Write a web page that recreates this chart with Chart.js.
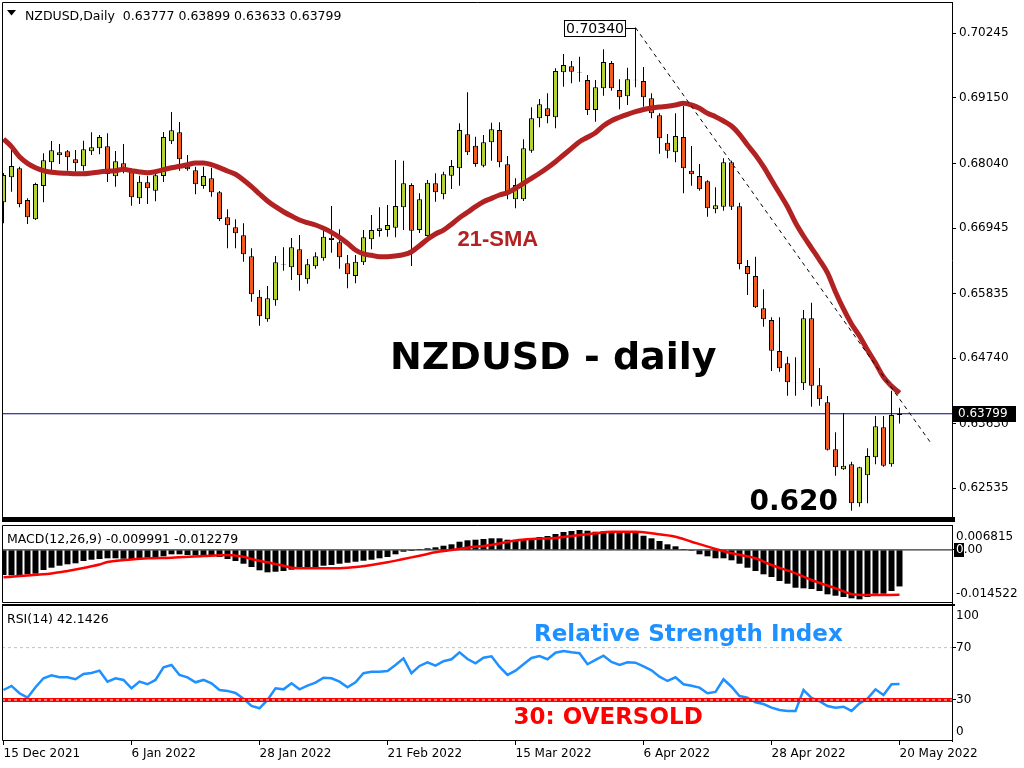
<!DOCTYPE html>
<html>
<head>
<meta charset="utf-8">
<title>NZDUSD daily</title>
<script src="https://cdn.jsdelivr.net/npm/chart.js@4.4.1/dist/chart.umd.min.js"></script>
<style>
  html, body { margin: 0; padding: 0; background: #fff; }
  #wrap { position: relative; width: 1024px; height: 768px; overflow: hidden; }
  canvas { position: absolute; left: 0; }
</style>
</head>
<body>
<div id="wrap">
  <canvas id="price" width="1024" height="524" style="top:0px"></canvas>
  <canvas id="macd" width="1024" height="80" style="top:524px"></canvas>
  <canvas id="rsi" width="1024" height="164" style="top:604px"></canvas>
</div>
<script>
// Daily candles, index 0 = 15 Dec 2021 ... 112 = 20 May 2022
const open = [
  .67381,.67805,.67958,.67420,.67093,.67658,.68059,.68229,.68246,.68110,
  .67991,.68246,.68296,.68330,.67822,.68042,.67934,.67449,.67720,.67578,
  .67827,.68415,.68567,.67985,.67924,.67658,.67788,.67551,.67127,.66958,
  .66822,.66467,.65782,.65399,.65721,.66320,.66280,.66585,.66077,.66297,
  .66433,.66782,.66704,.66348,.66133,.66365,.66755,.66895,.66912,.66951,
  .67297,.67675,.66912,.66810,.67703,.67517,.67832,.67958,.68534,.68340,
  .68002,.68398,.68606,.68025,.67432,.67432,.68256,.68805,.68974,.68822,
  .69584,.69686,.69580,.69454,.68945,.69313,.69742,.69284,.69177,.69450,
  .69437,.69144,.68856,.68391,.68229,.68488,.67917,.67827,.67737,.67263,
  .67307,.68059,.67314,.66302,.66133,.65586,.65387,.64862,.64654,.64325,
  .64315,.65416,.64281,.63993,.63197,.62858,.62942,.62282,.62756,.63061,
  .63569,.62942,.63777];
const high = [
  .67878,.68285,.67985,.67449,.67714,.68212,.68420,.68369,.68268,.68268,
  .68425,.68567,.68522,.68551,.68251,.68369,.67958,.67832,.67832,.67929,
  .68573,.68911,.68742,.68183,.67985,.67985,.67968,.67573,.67263,.67093,
  .67026,.66602,.65896,.65963,.66472,.66619,.66777,.66827,.66421,.66534,
  .66912,.67319,.66924,.66489,.66489,.66912,.67166,.67297,.67336,.68098,
  .68086,.67703,.67534,.67759,.67873,.67900,.68098,.68720,.69245,.68493,
  .68522,.68730,.68737,.68166,.67788,.68449,.68991,.69132,.69228,.69652,
  .69894,.69776,.69848,.69538,.69454,.69974,.69776,.69465,.69662,.70340,
  .69674,.69228,.68889,.68539,.68889,.69013,.68335,.68030,.67754,.67636,
  .68127,.68086,.67375,.66404,.66460,.65907,.65433,.65433,.64765,.64755,
  .65557,.65680,.64574,.64100,.63485,.63806,.62986,.62902,.63213,.63761,
  .63761,.64189,.63899];
const low = [
  .67026,.67561,.67297,.67014,.67082,.67381,.67929,.68030,.67917,.67900,
  .67917,.68183,.68195,.67725,.67646,.67873,.67324,.67353,.67353,.67398,
  .67725,.68369,.67917,.67917,.67517,.67612,.67476,.67065,.66602,.66602,
  .66375,.65697,.65291,.65358,.65630,.66223,.66065,.65884,.66002,.66256,
  .66392,.66528,.66256,.65924,.66009,.66319,.66585,.66799,.66799,.66788,
  .66912,.66302,.66861,.66799,.67392,.67432,.67607,.67663,.68183,.67985,
  .67974,.68086,.67974,.67432,.67280,.67404,.68222,.68652,.68720,.68635,
  .69340,.69398,.69425,.68861,.68747,.69188,.69272,.68957,.69030,.69330,
  .69001,.68805,.68205,.68127,.68059,.67534,.67663,.67578,.67138,.67195,
  .67239,.67251,.66246,.65811,.65590,.65274,.64523,.64511,.64105,.64105,
  .64201,.63918,.63935,.63176,.62749,.62846,.62156,.62224,.62282,.62942,
  .62902,.62902,.63633];
const close = [
  .67844,.67997,.67353,.67127,.67692,.68093,.68262,.68178,.68144,.68042,
  .68279,.68313,.68488,.67861,.68076,.67968,.67466,.67731,.67619,.67839,
  .68488,.68601,.68110,.67941,.67686,.67827,.67551,.67099,.66992,.66856,
  .66500,.65823,.65450,.65755,.66365,.66328,.66619,.66145,.66331,.66467,
  .66799,.66743,.66450,.66162,.66375,.66788,.66912,.66941,.66997,.67319,
  .67703,.66900,.67432,.67714,.67551,.67856,.67997,.68606,.68229,.68030,
  .68398,.68618,.68059,.67517,.67675,.68296,.68805,.69042,.68844,.69606,
  .69708,.69594,.69588,.68945,.69330,.69759,.69313,.69160,.69465,.69458,
  .69160,.68889,.68466,.68254,.68505,.67958,.67856,.67602,.67280,.67331,
  .68059,.67307,.66336,.66167,.65602,.65399,.64867,.64569,.64332,.64330,
  .65416,.64274,.64044,.63190,.62892,.62919,.62282,.62892,.63083,.63586,
  .62919,.63778,.63799];

// 21-period SMA as drawn on the chart
const sma21 = [
  .68454,.68324,.68154,.68042,.67968,.67917,.67890,.67878,.67873,.67866,
  .67866,.67878,.67895,.67907,.67917,.67941,.67917,.67895,.67883,.67900,
  .67934,.67968,.67991,.68019,.68047,.68047,.68019,.67968,.67912,.67856,
  .67759,.67646,.67522,.67404,.67307,.67222,.67149,.67082,.67036,.66997,
  .66941,.66873,.66788,.66687,.66573,.66506,.66483,.66460,.66460,.66472,
  .66494,.66544,.66646,.66755,.66844,.66912,.67009,.67121,.67212,.67307,
  .67392,.67449,.67505,.67544,.67619,.67703,.67788,.67873,.67968,.68069,
  .68183,.68296,.68408,.68483,.68561,.68679,.68764,.68822,.68872,.68917,
  .68954,.68979,.68996,.69008,.69030,.69059,.69030,.68974,.68889,.68832,
  .68759,.68674,.68534,.68352,.68183,.67985,.67759,.67534,.67307,.67036,
  .66811,.66607,.66404,.66184,.65862,.65574,.65320,.65116,.64879,.64659,
  .64422,.64269,.64150];

// MACD(12,26,9) histogram and signal line
const macdMain = [
  -.006866,-.006948,-.006866,-.006675,-.006511,-.005499,-.004869,-.004322,-.003939,-.003666,
  -.003037,-.002681,-.002489,-.002298,-.002298,-.002407,-.002489,-.002298,-.002134,-.002024,
  -.001751,-.001204,-.001204,-.001395,-.001477,-.001587,-.001751,-.001942,-.002489,-.003037,
  -.003775,-.004678,-.005581,-.006128,-.005964,-.005772,-.005416,-.005225,-.005034,-.004678,
  -.004322,-.004131,-.003775,-.003502,-.003228,-.002954,-.002681,-.002298,-.001942,-.001204,
  -.000492,-.000301,.000246,.000438,.000711,.001149,.001532,.002243,.002626,.002790,
  .002982,.003173,.003173,.002790,.002435,.002708,.003173,.003529,.003802,.004350,
  .004897,.005170,.005444,.005252,.004979,.005088,.005170,.004979,.004979,.004815,
  .003885,.003173,.002435,.001532,.000985,.000246,-.000246,-.001204,-.001751,-.002298,
  -.002298,-.002845,-.003775,-.004869,-.005772,-.006675,-.007413,-.008508,-.009246,-.010341,
  -.010505,-.010696,-.011243,-.012146,-.012529,-.012885,-.013240,-.013514,-.012885,-.011982,
  -.011982,-.011243,-.009991];
const signalIdx = [0,2,6,8,10,12,13,16,18,21,25,28,30,31,33,35,36,38,41,43,46,48,50,52,54,
  56,58,61,64,66,69,71,74,76,79,81,84,86,89,91,94,96,99,101,104,106,108,112];
const signalVal = [-.007496,-.007140,-.006456,-.005772,-.004951,-.003994,-.003310,-.002626,
  -.002298,-.002134,-.001669,-.001395,-.001860,-.002489,-.003392,-.004322,-.004869,-.005034,
  -.005034,-.004869,-.004131,-.003392,-.002489,-.001587,-.000657,-.000027,.000602,.001340,
  .002571,.002982,.003255,.003802,.004541,.004979,.004979,.004541,.003611,.002243,.000246,
  -.000930,-.002298,-.004131,-.006401,-.008234,-.010505,-.012064,-.012338,-.012279];

// RSI(14)
const rsi14 = [
  37.6,40.7,35.1,31.7,39.7,46.6,48.9,47.3,47.3,45.8,
  49.8,50.6,52.4,44.0,46.6,45.3,38.9,44.0,42.0,45.3,
  55.0,56.7,49.1,47.3,43.5,45.3,42.7,37.6,36.9,35.3,
  31.0,25.4,23.6,30.0,38.9,38.1,42.7,38.1,40.9,43.2,
  47.0,46.6,44.0,39.7,43.5,50.4,51.6,51.6,52.1,56.7,
  61.8,50.4,56.0,58.8,56.2,59.6,61.1,66.4,61.3,58.0,
  62.3,63.4,55.4,49.1,52.4,57.3,62.1,63.6,61.1,66.1,
  67.4,66.4,65.7,57.3,60.6,63.8,59.0,56.7,58.8,58.5,
  55.7,52.7,47.8,44.5,47.3,42.0,40.9,39.4,35.1,36.1,
  45.8,40.1,33.0,31.7,28.2,26.9,24.1,22.3,21.6,21.6,
  37.6,31.5,29.0,25.4,24.1,24.8,21.6,27.4,31.0,38.1,
  33.8,42.0,42.1426];

// axes and annotations
const priceTicks = [0.70245, 0.69150, 0.68040, 0.66945, 0.65835, 0.64740, 0.63630, 0.62535];
const dateTicks = [0, 16, 32, 48, 64, 80, 96, 112];
const dateLabels = ['15 Dec 2021', '6 Jan 2022', '28 Jan 2022', '21 Feb 2022',
  '15 Mar 2022', '6 Apr 2022', '28 Apr 2022', '20 May 2022'];
const macdTicks = [0];
const macdEdge = ['0.006815', '-0.014522'];
const rsiTicks = [30, 70];
const rsiEdge = ['100', '0'];
const rsiOverbought = 70;
const rsiOversold = 30;
const trendIdx = [79, 116.1];
const trendPrice = [0.70340, 0.63269];
const highIdx = 79;
const highMark = 0.70340;
const bidPrice = 0.63799;

const X_MIN = -0.1875, X_MAX = 118.5625;
const PRICE_MIN = 0.62033, PRICE_MAX = 0.70775;
const MACD_MIN = -0.014522, MACD_MAX = 0.006815;
const RSI_MIN = -1.4, RSI_MAX = 102.6;

const BULL = '#B2D334';
const BEAR = '#F25A1F';
const FONT = '"DejaVu Sans", sans-serif';

Chart.defaults.font.family = FONT;
Chart.defaults.font.size = 12;
Chart.defaults.color = '#000';

const n = open.length - 1;
const idx = open.map((_, i) => i);

function xAxis(show) {
  const ax = { type: 'linear', min: X_MIN, max: X_MAX, offset: false, display: show };
  if (show) {
    Object.assign(ax, {
      afterFit: s => { s.height = 27; s.paddingLeft = 0; s.paddingRight = 0; },
      afterBuildTicks: s => { s.ticks = dateTicks.map(v => ({ value: v })); },
      grid: { drawOnChartArea: false, drawTicks: true, tickLength: 4, color: '#000' },
      border: { display: false },
      ticks: { align: 'start', autoSkip: false, maxRotation: 0, padding: 2, color: '#000',
               callback: (v, i) => dateLabels[i] }
    });
  }
  return ax;
}

function yAxis(min, max, values, fmt, pad) {
  return {
    position: 'right', min, max,
    afterFit: s => { s.width = 72; s.paddingTop = 0; s.paddingBottom = 0; },
    afterBuildTicks: s => { s.ticks = values.map(v => ({ value: v })); },
    grid: { drawOnChartArea: false, drawTicks: true, tickLength: 4, color: '#000' },
    border: { display: true, color: '#000' },
    ticks: { autoSkip: false, padding: pad, color: '#000', callback: fmt }
  };
}

function frame(ctx, a) {
  ctx.strokeStyle = '#000';
  ctx.lineWidth = 1;
  ctx.beginPath();
  ctx.moveTo(a.right, a.top + 0.5);
  ctx.lineTo(a.left + 0.5, a.top + 0.5);
  ctx.lineTo(a.left + 0.5, a.bottom - 0.5);
  ctx.lineTo(a.right, a.bottom - 0.5);
  ctx.stroke();
}

const baseOptions = {
  responsive: false,
  animation: false,
  devicePixelRatio: 1,
  events: [],
  plugins: { legend: { display: false }, tooltip: { enabled: false } }
};

// ---------- price panel ----------
const priceDecor = {
  id: 'priceDecor',
  afterDraw(chart) {
    const { ctx, chartArea: a, scales: { x, y } } = chart;
    ctx.save();
    frame(ctx, a);
    ctx.fillStyle = '#000';
    ctx.fillRect(a.left, a.bottom - 1, a.right - a.left + 3, 5);

    // header
    ctx.beginPath();
    ctx.moveTo(7, 10); ctx.lineTo(16, 10); ctx.lineTo(11.5, 15.5); ctx.closePath();
    ctx.fill();
    ctx.font = '12.5px ' + FONT;
    ctx.textBaseline = 'alphabetic';
    ctx.fillText('NZDUSD,Daily  ' + [open[n], high[n], low[n], close[n]].map(v => v.toFixed(5)).join(' '), 25, 19.5);

    // high marker box
    const hx = x.getPixelForValue(highIdx);
    const hy = Math.round(y.getPixelForValue(highMark)) + 0.5;
    ctx.beginPath(); ctx.moveTo(hx - 9.5, hy); ctx.lineTo(hx, hy); ctx.stroke();
    ctx.fillStyle = '#fff';
    ctx.fillRect(hx - 71.5, hy - 8.5, 62, 17);
    ctx.strokeRect(hx - 71, hy - 8, 61, 16);
    ctx.fillStyle = '#000';
    ctx.font = '14px ' + FONT;
    ctx.textAlign = 'center';
    ctx.textBaseline = 'middle';
    ctx.fillText(highMark.toFixed(5), hx - 40.5, hy + 1);

    // current bid box on the axis
    const by = y.getPixelForValue(bidPrice);
    ctx.fillStyle = '#000';
    ctx.fillRect(a.right + 1, Math.round(by) - 8, 63, 16);
    ctx.fillStyle = '#fff';
    ctx.font = '12px ' + FONT;
    ctx.textAlign = 'left';
    ctx.fillText(bidPrice.toFixed(5), a.right + 6, by + 0.5);

    // annotations
    ctx.textBaseline = 'alphabetic';
    ctx.fillStyle = '#000';
    ctx.font = 'bold 38px ' + FONT;
    ctx.fillText('NZDUSD - daily', 390, 369);
    ctx.font = 'bold 28px ' + FONT;
    ctx.fillText('0.620', 749.5, 510);
    ctx.fillStyle = '#B22222';
    ctx.font = 'bold 22px "Liberation Sans", Arial, sans-serif';
    ctx.fillText('21-SMA', 457.5, 246);
    ctx.restore();
  }
};

new Chart(document.getElementById('price'), {
  type: 'bar',
  data: {
    datasets: [
      { type: 'line', label: 'bid', data: [{ x: X_MIN, y: bidPrice }, { x: X_MAX, y: bidPrice }],
        borderColor: '#000080', borderWidth: 1, pointRadius: 0, order: 5 },
      { label: 'wick', data: idx.map(i => ({ x: i, y: [low[i], high[i]] })),
        backgroundColor: '#000', barThickness: 1, grouped: false, inflateAmount: 0, order: 4 },
      { label: 'body', data: idx.map(i => ({ x: i, y: [open[i], close[i]] })),
        backgroundColor: idx.map(i => close[i] >= open[i] ? BULL : BEAR),
        borderColor: '#000', borderWidth: 1, borderSkipped: false,
        barThickness: 5, grouped: false, inflateAmount: 0, order: 3 },
      { type: 'line', label: '21-SMA', data: idx.map(i => ({ x: i, y: sma21[i] })),
        borderColor: '#B22222', borderWidth: 5, pointRadius: 0, cubicInterpolationMode: 'monotone', order: 2 },
      { type: 'line', label: 'trend', data: trendIdx.map((v, k) => ({ x: v, y: trendPrice[k] })),
        borderColor: '#000', borderWidth: 1, borderDash: [4, 4], pointRadius: 0, order: 1 }
    ]
  },
  options: {
    ...baseOptions,
    layout: { padding: { left: 2, top: 2, right: 0, bottom: 6 } },
    scales: {
      x: xAxis(false),
      y: yAxis(PRICE_MIN, PRICE_MAX, priceTicks, v => v.toFixed(5), 3)
    }
  },
  plugins: [priceDecor]
});

// ---------- MACD panel ----------
const macdDecor = {
  id: 'macdDecor',
  afterDraw(chart) {
    const { ctx, chartArea: a, scales: { y } } = chart;
    ctx.save();
    frame(ctx, a);
    ctx.fillStyle = '#000';
    ctx.font = '12.5px ' + FONT;
    ctx.textBaseline = 'alphabetic';
    ctx.fillText('MACD(12,26,9) ' + macdMain[n].toFixed(6) + ' ' + signalVal[signalVal.length - 1].toFixed(6), 7, 19.3);
    ctx.font = '12px ' + FONT;
    ctx.textBaseline = 'middle';
    ctx.fillText(macdEdge[0], a.right + 4, a.top + 11.7);
    ctx.fillText(macdEdge[1], a.right + 4, a.bottom - 9);
    const zy = y.getPixelForValue(0);
    ctx.fillRect(a.right + 2, Math.round(zy) - 7, 10, 14);
    ctx.fillStyle = '#fff';
    ctx.fillText('0', a.right + 4, zy);
    ctx.restore();
  }
};

new Chart(document.getElementById('macd'), {
  type: 'bar',
  data: {
    datasets: [
      { type: 'line', label: 'zero', data: macdTicks.flatMap(v => [{ x: X_MIN, y: v }, { x: X_MAX, y: v }]),
        borderColor: '#000', borderWidth: 1, pointRadius: 0, order: 3 },
      { label: 'MACD', data: idx.map(i => ({ x: i, y: macdMain[i] })),
        backgroundColor: '#000', barThickness: 6, grouped: false, inflateAmount: 0, order: 2 },
      { type: 'line', label: 'Signal', data: signalIdx.map((v, k) => ({ x: v, y: signalVal[k] })),
        borderColor: '#FF0000', borderWidth: 2.5, pointRadius: 0, cubicInterpolationMode: 'monotone', order: 1 }
    ]
  },
  options: {
    ...baseOptions,
    layout: { padding: { left: 2, top: 1, right: 0, bottom: 1 } },
    scales: {
      x: xAxis(false),
      y: yAxis(MACD_MIN, MACD_MAX, macdTicks, v => v.toFixed(2), 0)
    }
  },
  plugins: [macdDecor]
});

// ---------- RSI panel ----------
const rsiDecor = {
  id: 'rsiDecor',
  afterDraw(chart) {
    const { ctx, chartArea: a } = chart;
    ctx.save();
    frame(ctx, a);
    ctx.fillStyle = '#000';
    ctx.fillRect(a.left, 0, a.right - a.left + 3, 2);
    ctx.font = '12.5px ' + FONT;
    ctx.textBaseline = 'alphabetic';
    ctx.fillText('RSI(14) ' + rsi14[n], 7, 19.3);
    ctx.font = '12px ' + FONT;
    ctx.textBaseline = 'middle';
    ctx.fillText(rsiEdge[0], a.right + 4, a.top + 10.7);
    ctx.fillText(rsiEdge[1], a.right + 4, a.bottom - 8.7);
    ctx.textBaseline = 'alphabetic';
    ctx.font = 'bold 23px ' + FONT;
    ctx.fillStyle = '#1E90FF';
    ctx.fillText('Relative Strength Index', 534, 37);
    ctx.fillStyle = '#FF0000';
    ctx.fillText('30: OVERSOLD', 513.5, 120);
    ctx.restore();
  }
};

new Chart(document.getElementById('rsi'), {
  type: 'line',
  data: {
    datasets: [
      { label: 'level70', data: [{ x: X_MIN, y: rsiOverbought }, { x: X_MAX, y: rsiOverbought }],
        borderColor: '#C0C0C0', borderWidth: 1, borderDash: [3, 3], pointRadius: 0, order: 4 },
      { label: 'RSI', data: idx.map(i => ({ x: i, y: rsi14[i] })),
        borderColor: '#1E90FF', borderWidth: 2.5, pointRadius: 0, tension: 0, order: 3 },
      { label: 'level30', data: [{ x: X_MIN, y: rsiOversold }, { x: X_MAX, y: rsiOversold }],
        borderColor: '#FF0000', borderWidth: 4, pointRadius: 0, order: 2 },
      { label: 'level30dash', data: [{ x: X_MIN, y: rsiOversold }, { x: X_MAX, y: rsiOversold }],
        borderColor: '#F4F4F4', borderWidth: 1, borderDash: [3, 3], pointRadius: 0, order: 1 }
    ]
  },
  options: {
    ...baseOptions,
    layout: { padding: { left: 2, top: 1, right: 0, bottom: 0 } },
    scales: {
      x: xAxis(true),
      y: yAxis(RSI_MIN, RSI_MAX, rsiTicks, v => String(v), 0)
    }
  },
  plugins: [rsiDecor]
});
</script>
</body>
</html>
